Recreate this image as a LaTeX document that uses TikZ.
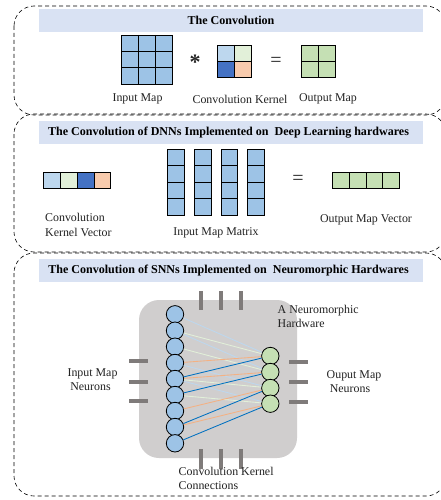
\documentclass[tikz,border=0pt]{standalone}
\usepackage{fontspec}
\setmainfont{Liberation Serif}
\definecolor{hdr}{HTML}{D9E2F3}
\definecolor{inp}{HTML}{9DC3E6}
\definecolor{klb}{HTML}{BDD7EE}
\definecolor{klg}{HTML}{E2F0D9}
\definecolor{kbl}{HTML}{4472C4}
\definecolor{kor}{HTML}{F8CBAD}
\definecolor{outg}{HTML}{C5E0B4}
\definecolor{chipc}{HTML}{D0CECE}
\definecolor{pinc}{HTML}{7F7B7A}
\definecolor{eor}{HTML}{F4B183}
\definecolor{ebl}{HTML}{0070C0}
\definecolor{txt}{HTML}{222222}
\tikzset{
  x=1pt,y=-1pt,
  frame/.style={draw=black,dash pattern=on 4pt off 3pt,line width=0.6pt,rounded corners=20pt},
  headbar/.style={fill=hdr,draw=none,minimum height=23pt,minimum width=384pt,inner sep=0pt,
    font=\fontsize{12.05}{14}\selectfont\bfseries,text=black},
  lab/.style={font=\fontsize{11.9}{14.5}\selectfont,text=txt,inner sep=0pt,align=left},
  opsym/.style={font=\fontsize{20}{20}\selectfont,text=black!85,inner sep=0pt},
  cell/.style={draw=black,line width=0.9pt},
  pin/.style={draw=pinc,line width=3.6pt},
  inneuron/.style={circle,draw=black,line width=0.8pt,fill=inp,minimum size=17.4pt,inner sep=0pt},
  outneuron/.style={circle,draw=black,line width=0.8pt,fill=outg,minimum size=17.4pt,inner sep=0pt},
  chip/.style={fill=chipc,draw=none,rounded corners=20pt,minimum width=158pt,minimum height=158pt,inner sep=0pt},
  conn/.style={line width=0.85pt}
}
\begin{document}
\begin{tikzpicture}
\useasboundingbox (0,0) rectangle (441,500);
\fill[white] (0,0) rectangle (441,500);
% frames
\draw[frame] (14,6) rectangle (446,115);
\draw[frame] (14,114) rectangle (446,252);
\draw[frame] (14,253) rectangle (446,496);
% headers
\node[headbar] (h1) at (231,20.5) {The Convolution};
\node[headbar] (h2) at (231,132.5) {The Convolution of DNNs Implemented on\ \ Deep Learning hardwares\hspace*{5pt}};
\node[headbar] (h3) at (231,270.5) {The Convolution of SNNs Implemented on\ \ Neuromorphic Hardwares\hspace*{5pt}};
% input map
\fill[inp] (121,35) rectangle (172,84);
\draw[cell] (121,35) rectangle (172,84)
  (138,35) -- (138,84) (155,35) -- (155,84)
  (121,51.3) -- (172,51.3) (121,67.7) -- (172,67.7);
% kernel
\fill[klb] (217,45) rectangle (234,61);
\fill[klg] (234,45) rectangle (251,61);
\fill[kbl] (217,61) rectangle (234,77);
\fill[kor] (234,61) rectangle (251,77);
\draw[cell] (217,45) rectangle (251,77) (234,45) -- (234,77) (217,61) -- (251,61);
% output
\fill[outg] (301,45) rectangle (335,77);
\draw[cell] (301,45) rectangle (335,77) (318,45) -- (318,77) (301,61) -- (335,61);
\node[opsym,font=\fontsize{22}{22}\selectfont\bfseries] (star) at (195,62) {*};
\node[opsym] (eq1) at (276,62) {=};
\node[lab] (l1) at (137.5,99) {Input Map};
\node[lab] (l2) at (240,99) {Convolution Kernel};
\node[lab] (l3) at (328,99) {Output Map};
% kernel vector
\fill[klb] (43,172) rectangle (60,188);
\fill[klg] (60,172) rectangle (77,188);
\fill[kbl] (77,172) rectangle (94,188);
\fill[kor] (94,172) rectangle (110,188);
\draw[cell] (43,172) rectangle (110,188) (60,172) -- (60,188) (77,172) -- (77,188) (94,172) -- (94,188);
% matrix columns
\foreach \xa/\xb in {167/184,194/211,221/237,247/264}{
  \fill[inp] (\xa,149) rectangle (\xb,215);
  \draw[cell] (\xa,149) rectangle (\xb,215) (\xa,165.5) -- (\xb,165.5) (\xa,182) -- (\xb,182) (\xa,198.5) -- (\xb,198.5);
}
\node[opsym] (eq2) at (298,180) {=};
% output vector
\fill[outg] (332,172) rectangle (399,188);
\draw[cell] (332,172) rectangle (399,188) (349,172) -- (349,188) (366,172) -- (366,188) (382,172) -- (382,188);
\node[lab,anchor=north west] (l4) at (45,213.5) {Convolution\\Kernel Vector};
\node[lab] (l5) at (216,233) {Input Map Matrix};
\node[lab] (l6) at (366,220) {Output Map Vector};
% chip and pins
\node[chip] (hw) at (218,379) {};
\foreach \px in {201,221,241}{
  \draw[pin] (\px,291) -- (\px,310);
  \draw[pin] (\px,449) -- (\px,469);
}
\foreach \py in {361,382,401} \draw[pin] (129,\py) -- (148,\py);
\foreach \py in {362,382,402} \draw[pin] (289,\py) -- (308,\py);
% neurons
\foreach \i/\yy in {1/314.3,2/330.7,3/346.7,4/363,5/379,6/395,7/411,8/427,9/443.3}
  \node[inneuron] (n\i) at (175,\yy) {};
\foreach \i/\yy in {1/356,2/372,3/388,4/403.7}
  \node[outneuron] (g\i) at (270.3,\yy) {};
% connections
\foreach \a/\b in {1/1,2/2,4/3,5/4} \draw[conn,klb] (n\a) -- (g\b);
\foreach \a/\b in {2/1,3/2,5/3,6/4} \draw[conn,klg] (n\a) -- (g\b);
\foreach \a/\b in {4/1,5/2,7/3,8/4} \draw[conn,eor] (n\a) -- (g\b);
\foreach \a/\b in {5/1,6/2,8/3,9/4} \draw[conn,ebl] (n\a) -- (g\b);
% labels
\node[lab,anchor=north west] (l7) at (277.5,305) {A Neuromorphic\\Hardware};
\node[lab,align=center] (l8) at (92.5,379.5) {Input Map\\Neurons\hspace*{4pt}};
\node[lab,align=center] (l9) at (354,381.5) {Ouput Map\\Neurons\hspace*{8pt}};
\node[lab,anchor=north west] (l10) at (178.5,467) {Convolution Kernel\\Connections};
\end{tikzpicture}
\end{document}
